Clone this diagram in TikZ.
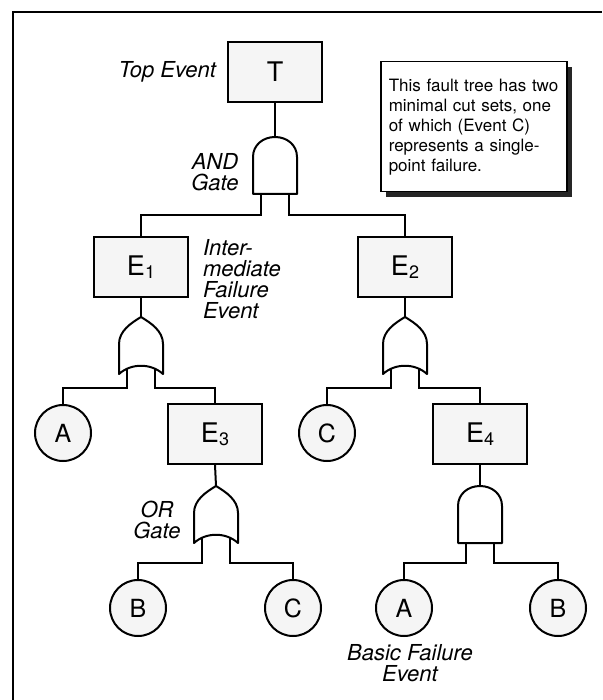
\documentclass[tikz,border=0pt]{standalone}
\usepackage{fontspec}
\setmainfont{TeX Gyre Heros}
\usetikzlibrary{shadows}
\newcommand\sbs[1]{\raisebox{-0.1em}{\fontsize{18}{18}\selectfont #1}}
% AND gate: #1 name, #2 centre x, #3 top y
\newcommand\andgate[3]{%
  \coordinate (#1-in) at (#2,#3);
  \coordinate (#1-l) at (#2-14,#3+52);
  \coordinate (#1-r) at (#2+14,#3+52);
}
\newcommand\andshape[2]{%
  \draw[gatefill] (#1-22,#2+57) -- (#1-22,#2+20)
    .. controls (#1-22,#2+8) and (#1-12,#2) .. (#1,#2)
    .. controls (#1+12,#2) and (#1+22,#2+8) .. (#1+22,#2+20)
    -- (#1+22,#2+57) -- cycle;
}
\newcommand\orgate[3]{%
  \coordinate (#1-in) at (#2,#3);
  \coordinate (#1-l) at (#2-14,#3+48);
  \coordinate (#1-r) at (#2+14,#3+48);
}
\newcommand\orshape[2]{%
  \draw[gatefill] (#1,#2)
    .. controls (#1-10,#2+6) and (#1-22,#2+14) .. (#1-22,#2+27)
    -- (#1-22,#2+57)
    .. controls (#1-10,#2+46) and (#1+10,#2+46) .. (#1+22,#2+57)
    -- (#1+22,#2+27)
    .. controls (#1+22,#2+14) and (#1+10,#2+6) .. (#1,#2) -- cycle;
}
\begin{document}
\begin{tikzpicture}[x=1pt,y=-1pt,line width=2pt,
  evbox/.style={draw,fill=black!4,minimum width=94pt,minimum height=60pt,inner sep=0pt,
    font=\fontsize{27}{30}\selectfont},
  basic/.style={draw,circle,fill=black!4,minimum size=56pt,inner sep=0pt,
    font=\fontsize{25}{28}\selectfont},
  lbl/.style={font=\fontsize{22}{21}\selectfont\itshape,inner sep=0pt,align=center},
  wire/.style={line width=2pt},
  gatefill/.style={draw,fill=white,line width=2pt,line join=round}]
\useasboundingbox (0,0) rectangle (602,700);
\draw[line width=2.5pt] (13,700) -- (13,12) -- (602,12);

% events
\node[evbox] (T) at (275,72) {T};
\node[evbox] (E1) at (141,267) {E\sbs{1}};
\node[evbox] (E2) at (405,267) {E\sbs{2}};
\node[evbox] (E3) at (215,434) {E\sbs{3}};
\node[evbox] (E4) at (480,434) {E\sbs{4}};
\node[basic] (A1) at (63,433) {A};
\node[basic] (C1) at (327,433) {C};
\node[basic] (B1) at (138,608) {B};
\node[basic] (C2) at (293,608) {C};
\node[basic] (A2) at (404,608) {A};
\node[basic] (B2) at (558,608) {B};

% gates (coordinates)
\andgate{gT}{275}{137}
\orgate{g1}{141}{317}
\orgate{g2}{405}{317}
\orgate{g3}{216}{486}
\andgate{g4}{480}{486}

% wires
\draw[wire] (T.south) -- (gT-in);
\draw[wire] (E1.south) -- (g1-in);
\draw[wire] (E2.south) -- (g2-in);
\draw[wire] (E3.south) -- (g3-in);
\draw[wire] (E4.south) -- (g4-in);
\draw[wire] (gT-l) -- ++(0,26) -| (E1.north);
\draw[wire] (gT-r) -- ++(0,26) -| (E2.north);
\draw[wire] (g1-l) -- ++(0,23) -| (A1.north);
\draw[wire] (g1-r) -- ++(0,23) -| (E3.north);
\draw[wire] (g2-l) -- ++(0,23) -| (C1.north);
\draw[wire] (g2-r) -- ++(0,23) -| (E4.north);
\draw[wire] (g3-l) -- ++(0,29) -| (B1.north);
\draw[wire] (g3-r) -- ++(0,29) -| (C2.north);
\draw[wire] (g4-l) -- ++(0,25) -| (A2.north);
\draw[wire] (g4-r) -- ++(0,25) -| (B2.north);

% gate shapes
\andshape{275}{137}
\orshape{141}{317}
\orshape{405}{317}
\orshape{216}{486}
\andshape{480}{486}

% labels
\node[lbl,anchor=east] (topl) at (217,72) {Top Event};
\node[lbl] (andl) at (215,172) {AND\\Gate};
\node[lbl,align=left,anchor=north west] (intl) at (202,238) {Inter-\\mediate\\Failure\\Event};
\node[lbl] (orl) at (157,520) {OR\\Gate};
\node[lbl] (basl) at (410,663) {Basic Failure\\Event};

% note
\node[draw,fill=white,line width=1.5pt,anchor=north west,text width=170pt,
  inner xsep=8pt,minimum height=130pt,align=left,font=\fontsize{17}{20}\selectfont,
  drop shadow={shadow xshift=5pt,shadow yshift=-5pt,fill=black!85,opacity=1}]
  (note) at (380,61) {This fault tree has two\\minimal cut sets, one\\of which (Event C)\\represents a single-\\point failure.};
\end{tikzpicture}
\end{document}
